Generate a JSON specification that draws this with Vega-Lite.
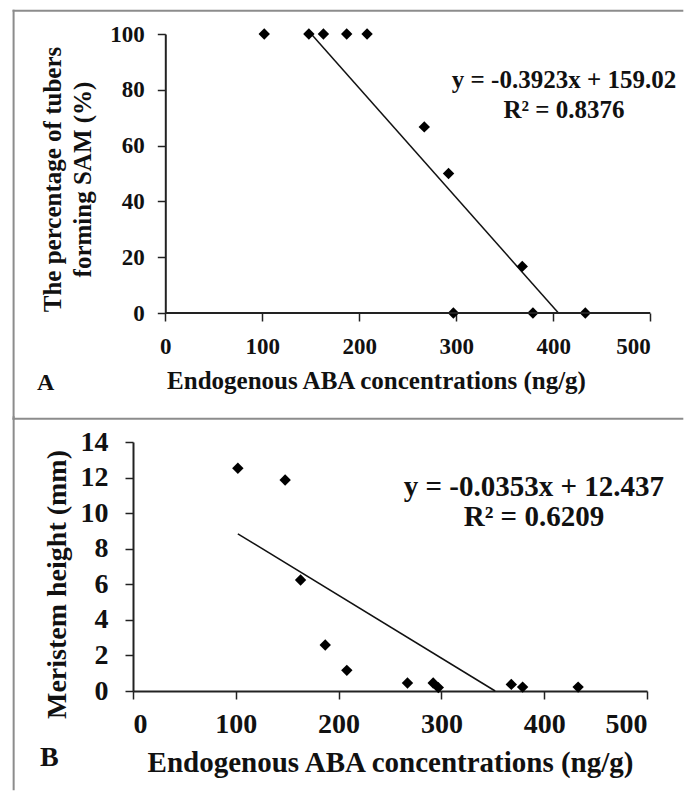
{
  "$schema": "https://vega.github.io/schema/vega-lite/v6.json",
  "padding": {"left": 12, "top": 9, "right": 0, "bottom": 0},
  "background": "white",
  "config": {
    "view": {"stroke": null},
    "font": "Liberation Serif",
    "axis": {
      "grid": false,
      "domainColor": "#222",
      "tickColor": "#222",
      "domainWidth": 2,
      "tickWidth": 1.5,
      "tickSize": 8,
      "labelColor": "#111",
      "titleColor": "#111",
      "labelFont": "Liberation Serif",
      "titleFont": "Liberation Serif",
      "labelFontWeight": "bold",
      "titleFontWeight": "bold",
      "labelOverlap": false
    }
  },
  "datasets": {
    "tubers": [
      {"aba": 102, "pct": 100},
      {"aba": 148, "pct": 100},
      {"aba": 163, "pct": 100},
      {"aba": 187, "pct": 100},
      {"aba": 208, "pct": 100},
      {"aba": 267, "pct": 66.7},
      {"aba": 292, "pct": 50},
      {"aba": 297, "pct": 0},
      {"aba": 368, "pct": 16.7},
      {"aba": 379, "pct": 0},
      {"aba": 433, "pct": 0}
    ],
    "meristem": [
      {"aba": 102, "height": 12.52},
      {"aba": 148, "height": 11.86},
      {"aba": 163, "height": 6.24},
      {"aba": 187, "height": 2.59},
      {"aba": 208, "height": 1.16},
      {"aba": 267, "height": 0.45},
      {"aba": 292, "height": 0.45},
      {"aba": 297, "height": 0.19},
      {"aba": 368, "height": 0.37},
      {"aba": 379, "height": 0.22},
      {"aba": 433, "height": 0.22}
    ],
    "fitA": [
      {"aba": 150, "pct": 100.2},
      {"aba": 405.3, "pct": 0}
    ],
    "fitB": [
      {"aba": 102, "height": 8.84},
      {"aba": 352.3, "height": 0}
    ],
    "one": [{}]
  },
  "concat": [
    {
      "width": 517.3,
      "height": 279,
      "layer": [
        {
          "data": {"name": "fitA"},
          "mark": {"type": "line", "color": "#111", "strokeWidth": 1.5},
          "encoding": {
            "x": {"field": "aba", "type": "quantitative", "scale": {"domain": [-33.3, 500], "nice": false, "zero": false},
              "axis": {"values": [0, 100, 200, 300, 400, 500], "domain": false, "title": "Endogenous ABA concentrations (ng/g)", "labelFontSize": 23, "titleFontSize": 25, "labelPadding": 14.5, "titleX": 243, "titleY": 75, "titleBaseline": "alphabetic"}},
            "y": {"field": "pct", "type": "quantitative", "scale": {"domain": [0, 100], "nice": false, "zero": false},
              "axis": {"values": [0, 20, 40, 60, 80, 100], "offset": -32.3, "title": ["The percentage of tubers", "forming SAM (%)"], "labelFontSize": 23, "titleFontSize": 25, "titleLineHeight": 30, "labelPadding": 13, "titleX": -112.7, "titleY": 145, "titleBaseline": "middle"}}
          }
        },
        {
          "data": {"name": "tubers"},
          "mark": {"type": "point", "shape": "diamond", "filled": true, "color": "#000", "opacity": 1, "size": 130},
          "encoding": {
            "x": {"field": "aba", "type": "quantitative", "scale": {"domain": [-33.3, 500], "nice": false, "zero": false},
              "axis": {"values": [0, 100, 200, 300, 400, 500], "domain": false, "title": "Endogenous ABA concentrations (ng/g)", "labelFontSize": 23, "titleFontSize": 25, "labelPadding": 14.5, "titleX": 243, "titleY": 75, "titleBaseline": "alphabetic"}},
            "y": {"field": "pct", "type": "quantitative", "scale": {"domain": [0, 100], "nice": false, "zero": false},
              "axis": {"values": [0, 20, 40, 60, 80, 100], "offset": -32.3, "title": ["The percentage of tubers", "forming SAM (%)"], "labelFontSize": 23, "titleFontSize": 25, "titleLineHeight": 30, "labelPadding": 13, "titleX": -112.7, "titleY": 145, "titleBaseline": "middle"}}
          }
        },
        {
          "data": {"name": "one"},
          "mark": {"type": "rule", "color": "#222", "strokeWidth": 2},
          "encoding": {
            "x": {"datum": 0, "type": "quantitative", "scale": {"domain": [-33.3, 500], "nice": false, "zero": false},
              "axis": {"values": [0, 100, 200, 300, 400, 500], "domain": false, "title": "Endogenous ABA concentrations (ng/g)", "labelFontSize": 23, "titleFontSize": 25, "labelPadding": 14.5, "titleX": 243, "titleY": 75, "titleBaseline": "alphabetic"}},
            "x2": {"datum": 500},
            "y": {"datum": 0, "type": "quantitative", "scale": {"domain": [0, 100], "nice": false, "zero": false},
              "axis": {"values": [0, 20, 40, 60, 80, 100], "offset": -32.3, "title": ["The percentage of tubers", "forming SAM (%)"], "labelFontSize": 23, "titleFontSize": 25, "titleLineHeight": 30, "labelPadding": 13, "titleX": -112.7, "titleY": 145, "titleBaseline": "middle"}}
          }
        },
        {
          "data": {"name": "one"},
          "mark": {"type": "rule", "color": "#8c8c8c", "strokeWidth": 2, "strokeCap": "square"},
          "encoding": {
            "x": {"datum": -156.4, "type": "quantitative", "scale": {"domain": [-33.3, 500], "nice": false, "zero": false},
              "axis": {"values": [0, 100, 200, 300, 400, 500], "domain": false, "title": "Endogenous ABA concentrations (ng/g)", "labelFontSize": 23, "titleFontSize": 25, "labelPadding": 14.5, "titleX": 243, "titleY": 75, "titleBaseline": "alphabetic"}},
            "x2": {"datum": 533},
            "y": {"datum": 108.35, "type": "quantitative", "scale": {"domain": [0, 100], "nice": false, "zero": false},
              "axis": {"values": [0, 20, 40, 60, 80, 100], "offset": -32.3, "title": ["The percentage of tubers", "forming SAM (%)"], "labelFontSize": 23, "titleFontSize": 25, "titleLineHeight": 30, "labelPadding": 13, "titleX": -112.7, "titleY": 145, "titleBaseline": "middle"}}
          }
        },
        {
          "data": {"name": "one"},
          "mark": {"type": "rule", "color": "#8c8c8c", "strokeWidth": 2, "strokeCap": "square"},
          "encoding": {
            "x": {"datum": -156.4, "type": "quantitative", "scale": {"domain": [-33.3, 500], "nice": false, "zero": false},
              "axis": {"values": [0, 100, 200, 300, 400, 500], "domain": false, "title": "Endogenous ABA concentrations (ng/g)", "labelFontSize": 23, "titleFontSize": 25, "labelPadding": 14.5, "titleX": 243, "titleY": 75, "titleBaseline": "alphabetic"}},
            "y": {"datum": 108.35, "type": "quantitative", "scale": {"domain": [0, 100], "nice": false, "zero": false},
              "axis": {"values": [0, 20, 40, 60, 80, 100], "offset": -32.3, "title": ["The percentage of tubers", "forming SAM (%)"], "labelFontSize": 23, "titleFontSize": 25, "titleLineHeight": 30, "labelPadding": 13, "titleX": -112.7, "titleY": 145, "titleBaseline": "middle"}},
            "y2": {"datum": -37.9}
          }
        },
        {
          "data": {"name": "one"},
          "mark": {"type": "rule", "color": "#8c8c8c", "strokeWidth": 2, "strokeCap": "square"},
          "encoding": {
            "x": {"datum": -156.4, "type": "quantitative", "scale": {"domain": [-33.3, 500], "nice": false, "zero": false},
              "axis": {"values": [0, 100, 200, 300, 400, 500], "domain": false, "title": "Endogenous ABA concentrations (ng/g)", "labelFontSize": 23, "titleFontSize": 25, "labelPadding": 14.5, "titleX": 243, "titleY": 75, "titleBaseline": "alphabetic"}},
            "x2": {"datum": 533},
            "y": {"datum": -37.9, "type": "quantitative", "scale": {"domain": [0, 100], "nice": false, "zero": false},
              "axis": {"values": [0, 20, 40, 60, 80, 100], "offset": -32.3, "title": ["The percentage of tubers", "forming SAM (%)"], "labelFontSize": 23, "titleFontSize": 25, "titleLineHeight": 30, "labelPadding": 13, "titleX": -112.7, "titleY": 145, "titleBaseline": "middle"}}
          }
        },
        {
          "data": {"name": "one"},
          "mark": {"type": "text", "font": "Liberation Serif", "fontWeight": "bold", "fontSize": 25, "color": "#111", "align": "center", "baseline": "alphabetic", "lineHeight": 30},
          "encoding": {
            "x": {"datum": 411, "type": "quantitative", "scale": {"domain": [-33.3, 500], "nice": false, "zero": false},
              "axis": {"values": [0, 100, 200, 300, 400, 500], "domain": false, "title": "Endogenous ABA concentrations (ng/g)", "labelFontSize": 23, "titleFontSize": 25, "labelPadding": 14.5, "titleX": 243, "titleY": 75, "titleBaseline": "alphabetic"}},
            "y": {"datum": 80.75, "type": "quantitative", "scale": {"domain": [0, 100], "nice": false, "zero": false},
              "axis": {"values": [0, 20, 40, 60, 80, 100], "offset": -32.3, "title": ["The percentage of tubers", "forming SAM (%)"], "labelFontSize": 23, "titleFontSize": 25, "titleLineHeight": 30, "labelPadding": 13, "titleX": -112.7, "titleY": 145, "titleBaseline": "middle"}},
            "text": {"value": ["y = -0.3923x + 159.02", "R² = 0.8376"]}
          }
        },
        {
          "data": {"name": "one"},
          "mark": {"type": "text", "font": "Liberation Serif", "fontWeight": "bold", "fontSize": 24, "color": "#111", "align": "center", "baseline": "alphabetic"},
          "encoding": {
            "x": {"datum": -123.4, "type": "quantitative", "scale": {"domain": [-33.3, 500], "nice": false, "zero": false},
              "axis": {"values": [0, 100, 200, 300, 400, 500], "domain": false, "title": "Endogenous ABA concentrations (ng/g)", "labelFontSize": 23, "titleFontSize": 25, "labelPadding": 14.5, "titleX": 243, "titleY": 75, "titleBaseline": "alphabetic"}},
            "y": {"datum": -27.5, "type": "quantitative", "scale": {"domain": [0, 100], "nice": false, "zero": false},
              "axis": {"values": [0, 20, 40, 60, 80, 100], "offset": -32.3, "title": ["The percentage of tubers", "forming SAM (%)"], "labelFontSize": 23, "titleFontSize": 25, "titleLineHeight": 30, "labelPadding": 13, "titleX": -112.7, "titleY": 145, "titleBaseline": "middle"}},
            "text": {"value": "A"}
          }
        }
      ]
    },
    {
      "width": 514,
      "height": 249,
      "layer": [
        {
          "data": {"name": "fitB"},
          "mark": {"type": "line", "color": "#111", "strokeWidth": 1.5},
          "encoding": {
            "x": {"field": "aba", "type": "quantitative", "scale": {"domain": [0, 500], "nice": false, "zero": false},
              "axis": {"values": [0, 100, 200, 300, 400, 500], "title": "Endogenous ABA concentrations (ng/g)", "labelFontSize": 28, "titleFontSize": 29, "labelPadding": 11.5, "titleY": 80, "titleBaseline": "alphabetic"}},
            "y": {"field": "height", "type": "quantitative", "scale": {"domain": [0, 14], "nice": false, "zero": false},
              "axis": {"values": [0, 2, 4, 6, 8, 10, 12, 14], "title": "Meristem height (mm)", "labelFontSize": 28, "titleFontSize": 28, "labelPadding": 17, "titleX": -75.4, "titleY": 142, "titleBaseline": "middle"}}
          }
        },
        {
          "data": {"name": "meristem"},
          "mark": {"type": "point", "shape": "diamond", "filled": true, "color": "#000", "opacity": 1, "size": 130},
          "encoding": {
            "x": {"field": "aba", "type": "quantitative", "scale": {"domain": [0, 500], "nice": false, "zero": false},
              "axis": {"values": [0, 100, 200, 300, 400, 500], "title": "Endogenous ABA concentrations (ng/g)", "labelFontSize": 28, "titleFontSize": 29, "labelPadding": 11.5, "titleY": 80, "titleBaseline": "alphabetic"}},
            "y": {"field": "height", "type": "quantitative", "scale": {"domain": [0, 14], "nice": false, "zero": false},
              "axis": {"values": [0, 2, 4, 6, 8, 10, 12, 14], "title": "Meristem height (mm)", "labelFontSize": 28, "titleFontSize": 28, "labelPadding": 17, "titleX": -75.4, "titleY": 142, "titleBaseline": "middle"}}
          }
        },
        {
          "data": {"name": "one"},
          "mark": {"type": "rule", "color": "#8c8c8c", "strokeWidth": 2, "strokeCap": "square"},
          "encoding": {
            "x": {"datum": -116.1, "type": "quantitative", "scale": {"domain": [0, 500], "nice": false, "zero": false},
              "axis": {"values": [0, 100, 200, 300, 400, 500], "title": "Endogenous ABA concentrations (ng/g)", "labelFontSize": 28, "titleFontSize": 29, "labelPadding": 11.5, "titleY": 80, "titleBaseline": "alphabetic"}},
            "y": {"datum": 15.39, "type": "quantitative", "scale": {"domain": [0, 14], "nice": false, "zero": false},
              "axis": {"values": [0, 2, 4, 6, 8, 10, 12, 14], "title": "Meristem height (mm)", "labelFontSize": 28, "titleFontSize": 28, "labelPadding": 17, "titleX": -75.4, "titleY": 142, "titleBaseline": "middle"}},
            "y2": {"datum": -5.53}
          }
        },
        {
          "data": {"name": "one"},
          "mark": {"type": "text", "font": "Liberation Serif", "fontWeight": "bold", "fontSize": 29, "color": "#111", "align": "center", "baseline": "alphabetic", "lineHeight": 30},
          "encoding": {
            "x": {"datum": 390, "type": "quantitative", "scale": {"domain": [0, 500], "nice": false, "zero": false},
              "axis": {"values": [0, 100, 200, 300, 400, 500], "title": "Endogenous ABA concentrations (ng/g)", "labelFontSize": 28, "titleFontSize": 29, "labelPadding": 11.5, "titleY": 80, "titleBaseline": "alphabetic"}},
            "y": {"datum": 10.96, "type": "quantitative", "scale": {"domain": [0, 14], "nice": false, "zero": false},
              "axis": {"values": [0, 2, 4, 6, 8, 10, 12, 14], "title": "Meristem height (mm)", "labelFontSize": 28, "titleFontSize": 28, "labelPadding": 17, "titleX": -75.4, "titleY": 142, "titleBaseline": "middle"}},
            "text": {"value": ["y = -0.0353x + 12.437", "R² = 0.6209"]}
          }
        },
        {
          "data": {"name": "one"},
          "mark": {"type": "text", "font": "Liberation Serif", "fontWeight": "bold", "fontSize": 28, "color": "#111", "align": "center", "baseline": "alphabetic"},
          "encoding": {
            "x": {"datum": -81.4, "type": "quantitative", "scale": {"domain": [0, 500], "nice": false, "zero": false},
              "axis": {"values": [0, 100, 200, 300, 400, 500], "title": "Endogenous ABA concentrations (ng/g)", "labelFontSize": 28, "titleFontSize": 29, "labelPadding": 11.5, "titleY": 80, "titleBaseline": "alphabetic"}},
            "y": {"datum": -4.22, "type": "quantitative", "scale": {"domain": [0, 14], "nice": false, "zero": false},
              "axis": {"values": [0, 2, 4, 6, 8, 10, 12, 14], "title": "Meristem height (mm)", "labelFontSize": 28, "titleFontSize": 28, "labelPadding": 17, "titleX": -75.4, "titleY": 142, "titleBaseline": "middle"}},
            "text": {"value": "B"}
          }
        }
      ]
    }
  ],
  "columns": 1,
  "align": "none",
  "spacing": -6
}
